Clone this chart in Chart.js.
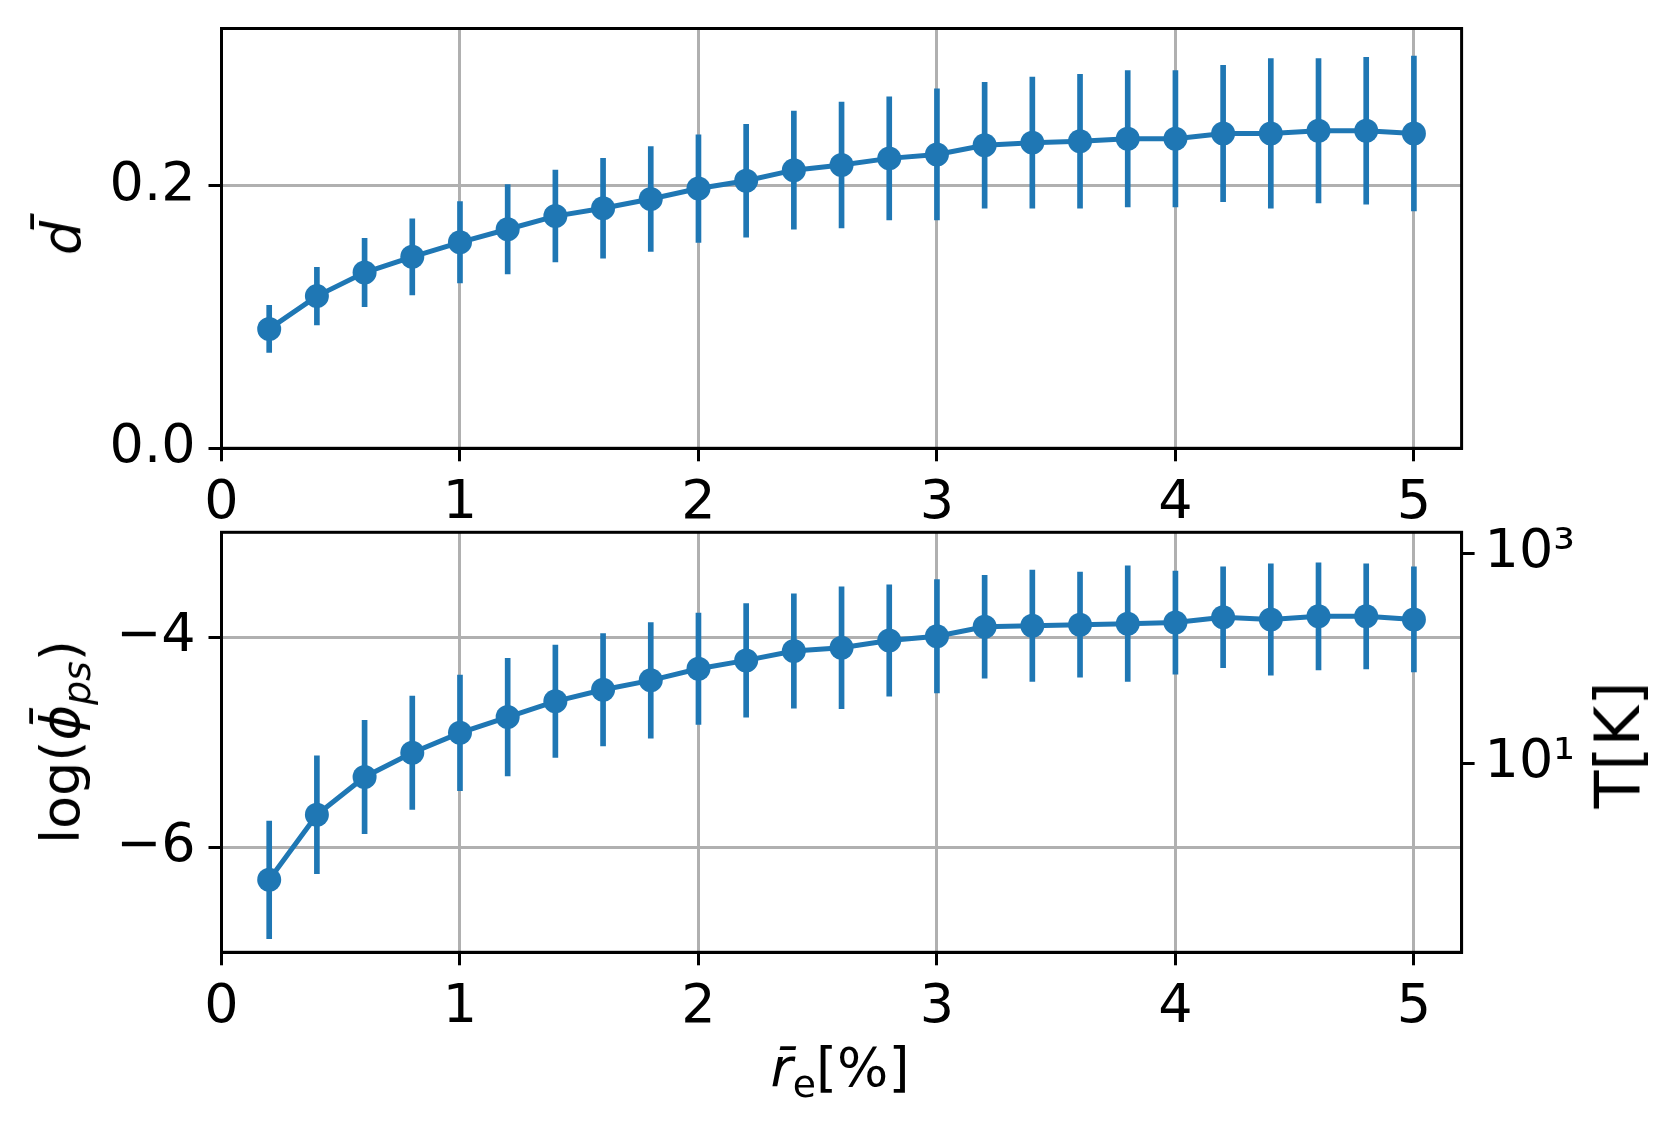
<!DOCTYPE html>
<html lang="en">
<head>
  <meta charset="UTF-8" />
  <title>d and log(phi) vs r_e</title>
  <script src="https://cdn.jsdelivr.net/npm/chart.js@4"></script>
  <style>
    body {
      margin: 0;
      background: #ffffff;
      width: 1678px;
      height: 1124px;
      position: relative;
      overflow: hidden;
      font-family: 'DejaVu Sans', sans-serif;
    }
    canvas { position: absolute; left: 0; }
    #topChart { top: 0; }
    #bottomChart { top: 510px; }

    .axis-label {
      position: absolute;
      font-size: 54px;
      line-height: 1;
      white-space: nowrap;
      color: #000;
      transform: translate(-50%, -50%);
    }
    .axis-label.vertical { transform: translate(-50%, -50%) rotate(-90deg); }
    .axis-label i { font-style: italic; }
    .axis-label sub { font-size: 0.7em; line-height: 0; vertical-align: -0.3em; }
  </style>
</head>
<body>
  <canvas id="topChart" width="1678" height="530"></canvas>
  <canvas id="bottomChart" width="1678" height="614"></canvas>

  <div class="axis-label vertical" style="left:62px; top:238px;"><i>d&#x304;</i></div>
  <div class="axis-label vertical" style="left:61px; top:742px;">log(<i>&#x3D5;&#x304;</i><sub><i>ps</i></sub>)</div>
  <div class="axis-label vertical" style="left:1618px; top:745px; font-size:62px;">T[K]</div>
  <div class="axis-label" style="left:840px; top:1068px;"><i>r&#x304;</i><sub>e</sub>[%]</div>

  <script>
    // r_e [%]
    const xVals = [0.2, 0.4, 0.6, 0.8, 1.0, 1.2, 1.4, 1.6, 1.8, 2.0, 2.2, 2.4, 2.6,
                   2.8, 3.0, 3.2, 3.4, 3.6, 3.8, 4.0, 4.2, 4.4, 4.6, 4.8, 5.0];
    const xTicks = [0, 1, 2, 3, 4, 5];

    // top panel: d bar
    const dMean = [0.091, 0.116, 0.134, 0.146, 0.157, 0.167, 0.177, 0.183, 0.190, 0.198, 0.204, 0.212, 0.216,
                   0.221, 0.224, 0.231, 0.233, 0.234, 0.236, 0.236, 0.240, 0.240, 0.242, 0.242, 0.240];
    const dErr = [0.018, 0.022, 0.026, 0.029, 0.031, 0.034, 0.035, 0.038, 0.040, 0.041, 0.043, 0.045, 0.048,
                  0.047, 0.050, 0.048, 0.050, 0.051, 0.052, 0.052, 0.052, 0.057, 0.055, 0.056, 0.059];
    const dTicks = [0.0, 0.2];

    // bottom panel: log(phi_ps)
    const phiMean = [-6.31, -5.69, -5.33, -5.10, -4.91, -4.76, -4.61, -4.50, -4.41, -4.30, -4.22, -4.13, -4.10,
                     -4.03, -3.99, -3.90, -3.89, -3.88, -3.87, -3.86, -3.81, -3.83, -3.80, -3.80, -3.83];
    const phiErr = [0.56, 0.56, 0.54, 0.54, 0.55, 0.56, 0.535, 0.535, 0.55, 0.53, 0.54, 0.545, 0.58,
                    0.53, 0.54, 0.49, 0.53, 0.50, 0.55, 0.49, 0.48, 0.53, 0.51, 0.50, 0.50];
    const phiTicks = [-6, -4];

    // twin axis: log10(T) = log(phi) + tempOffset
    const tempOffset = 6.2;
    const tempExpTicks = [1, 3];
    const supDigits = { 1: '\u00B9', 3: '\u00B3' };

    const blue = '#1f77b4';
    const tickFont = { family: 'DejaVu Sans', size: 54 };
    const gridStyle = { color: '#b0b0b0', lineWidth: 3, tickColor: '#000', tickLength: 13, tickWidth: 3, offset: false };
    const borderStyle = { display: true, color: '#000', width: 3 };

    function points(means) {
      return xVals.map((x, i) => ({ x: x, y: means[i] }));
    }
    function errBars(means, errs) {
      return xVals.map((x, i) => ({ x: x, y: [means[i] - errs[i], means[i] + errs[i]] }));
    }

    function datasets(means, errs) {
      return [
        {
          type: 'line', data: points(means), order: 0,
          borderColor: blue, backgroundColor: blue, borderWidth: 5,
          pointRadius: 12, pointHoverRadius: 12, pointBorderWidth: 0,
          pointBackgroundColor: blue, tension: 0
        },
        {
          type: 'bar', data: errBars(means, errs), order: 1,
          backgroundColor: blue, borderWidth: 0, barThickness: 5, grouped: false
        }
      ];
    }

    // fixed box sizes, and no label padding pushed into the plot area
    function fixSize(key, size) {
      return s => {
        s[key] = size;
        s.paddingTop = 0; s.paddingBottom = 0; s.paddingLeft = 0; s.paddingRight = 0;
      };
    }

    function xScale(height) {
      return {
        type: 'linear', min: 0, max: 5.2, offset: false,
        afterBuildTicks: s => { s.ticks = xTicks.map(v => ({ value: v })); },
        afterFit: fixSize('height', height),
        grid: gridStyle,
        border: borderStyle,
        ticks: { color: '#000', font: tickFont, padding: 10, maxRotation: 0, callback: v => String(v) }
      };
    }

    // box around the plotting area (top/right spines)
    const framePlugin = {
      id: 'frame',
      afterDraw(chart) {
        const { ctx, chartArea: a } = chart;
        ctx.save();
        ctx.strokeStyle = '#000';
        ctx.lineWidth = 3;
        ctx.strokeRect(a.left, a.top, a.right - a.left, a.bottom - a.top);
        ctx.restore();
      }
    };

    const common = {
      responsive: false,
      animation: false,
      plugins: { legend: { display: false }, tooltip: { enabled: false } }
    };

    new Chart(document.getElementById('topChart').getContext('2d'), {
      type: 'line',
      data: { datasets: datasets(dMean, dErr) },
      options: {
        ...common,
        layout: { autoPadding: false, padding: { top: 28.5, right: 216.4, left: 0, bottom: 0 } },
        scales: {
          x: xScale(530 - 448.3),
          y: {
            type: 'linear', min: 0, max: 0.32,
            afterBuildTicks: s => { s.ticks = dTicks.map(v => ({ value: v })); },
            afterFit: fixSize('width', 221.5),
            grid: gridStyle,
            border: borderStyle,
            ticks: { color: '#000', font: tickFont, padding: 13, callback: v => v.toFixed(1) }
          }
        }
      },
      plugins: [framePlugin]
    });

    new Chart(document.getElementById('bottomChart').getContext('2d'), {
      type: 'line',
      data: { datasets: datasets(phiMean, phiErr) },
      options: {
        ...common,
        layout: { autoPadding: false, padding: { top: 22.3, right: 0, left: 0, bottom: 0 } },
        scales: {
          x: xScale(614 - 442.3),
          y: {
            type: 'linear', min: -7, max: -3,
            afterBuildTicks: s => { s.ticks = phiTicks.map(v => ({ value: v })); },
            afterFit: fixSize('width', 221.5),
            grid: gridStyle,
            border: borderStyle,
            ticks: { color: '#000', font: tickFont, padding: 13, callback: v => (v < 0 ? '\u2212' : '') + Math.abs(v) }
          },
          yT: {
            type: 'linear', position: 'right',
            min: -7 + tempOffset, max: -3 + tempOffset,
            afterBuildTicks: s => { s.ticks = tempExpTicks.map(v => ({ value: v })); },
            afterFit: fixSize('width', 1678 - 1461.6),
            grid: { ...gridStyle, drawOnChartArea: false },
            border: borderStyle,
            ticks: { color: '#000', font: tickFont, padding: 10, callback: v => '10' + supDigits[v] }
          }
        }
      },
      plugins: [framePlugin]
    });
  </script>
</body>
</html>
